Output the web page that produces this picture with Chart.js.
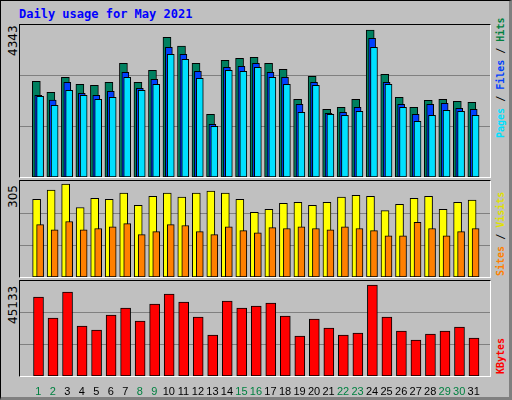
<!DOCTYPE html>
<html>
<head>
<meta charset="utf-8">
<script src="https://cdn.jsdelivr.net/npm/chart.js@4"></script>
<style>
  body { margin: 0; background: #fff; }
  #frame { position: absolute; left: 0; top: 0; width: 508px; height: 396px; background: #c0c0c0;
           border: 1px solid #000; border-right: 3px solid #808080; border-bottom: 3px solid #808080; }
  .box { position: absolute; }
  .plot { border-top: 1px solid #000; border-left: 1px solid #000; border-right: 1px solid #fff; border-bottom: 1px solid #fff; }
  .rot { position: absolute; transform: rotate(-90deg); transform-origin: left top; white-space: nowrap; }
  .title { position: absolute; left: 19px; top: 7px; font: bold 12px "DejaVu Sans Mono", monospace; color: #0000ff; }
  .left { font: 12px "DejaVu Sans", sans-serif; color: #000; }
  .right { font: bold 10px "DejaVu Sans Mono", monospace; }
</style>
</head>
<body>
<div id="frame"></div>
<div class="title">Daily usage for May 2021</div>

<div class="plot box" style="left:19px;top:24px;width:470px;height:152px"></div>
<div class="box" style="left:20px;top:25px;width:470px;height:152px"><canvas id="c1"></canvas></div>
<div class="plot box" style="left:19px;top:180px;width:470px;height:96px"></div>
<div class="box" style="left:20px;top:181px;width:470px;height:96px"><canvas id="c2"></canvas></div>
<div class="plot box" style="left:19px;top:280px;width:470px;height:95px"></div>
<div class="box" style="left:20px;top:281px;width:470px;height:116px"><canvas id="c3"></canvas></div>

<div class="rot left" style="left:6px;top:56px">4343</div>
<div class="rot left" style="left:6px;top:208px">305</div>
<div class="rot left" style="left:6px;top:324px">45133</div>

<div class="rot right" style="left:495px;top:138px"><span style="color:#00e0ff">Pages</span> / <span style="color:#0040ff">Files</span> / <span style="color:#008040">Hits</span></div>
<div class="rot right" style="left:495px;top:276px"><span style="color:#ff8000">Sites</span> / <span style="color:#e0e000">Visits</span></div>
<div class="rot right" style="left:495px;top:374px"><span style="color:#ff0000">KBytes</span></div>

<script>
const days = Array.from({length: 31}, (_, i) => i + 1);
const weekendDays = [1, 2, 8, 9, 15, 16, 22, 23, 29, 30];

const hits = [2827, 2502, 2945, 2738, 2709, 2797, 3359, 2797, 3152, 4127, 3870, 3359, 1852, 3447, 3506, 3536,
              3359, 3181, 2295, 2975, 2000, 2059, 2295, 4343, 3034, 2354, 2059, 2266, 2295, 2236, 2207];
const files = [2413, 2275, 2797, 2472, 2413, 2532, 3093, 2620, 2886, 3831, 3625, 3122, 1557, 3241, 3270, 3359,
               3093, 2945, 2148, 2797, 1882, 1911, 2059, 4097, 2797, 2148, 1852, 2148, 2177, 2029, 2000];
const pages = [2384, 2118, 2561, 2413, 2295, 2354, 2945, 2561, 2738, 3625, 3477, 2916, 1498, 3152, 3122, 3241,
               2945, 2738, 1911, 2709, 1852, 1823, 1941, 3831, 2738, 2059, 1645, 1823, 1970, 1941, 1823];
const visits = [255, 285, 305, 228, 258, 255, 275, 235, 265, 275, 262, 275, 282, 275, 255, 212,
                222, 242, 245, 235, 245, 262, 268, 265, 218, 238, 258, 265, 222, 245, 252];
const sites = [172, 155, 182, 155, 159, 165, 175, 139, 149, 172, 169, 149, 139, 165, 152, 145,
               162, 159, 165, 159, 155, 165, 159, 152, 135, 135, 179, 159, 135, 149, 159];
const kbytes = [39176, 28762, 41656, 24795, 22811, 30250, 33721, 27275, 35705, 40664, 36697, 29258, 20332, 37193, 33721, 34713,
                36201, 29754, 19836, 28266, 23803, 20332, 21324, 45133, 29258, 22316, 17852, 20828, 22316, 24299, 18844];

const X_MIN = 0.267, X_MAX = 31.6;

function pts(values, off) {
    return values.map((v, i) => ({x: days[i] + off, y: v}));
}

function bars(values, off, color, thick) {
    return {
        data: pts(values, off),
        backgroundColor: color,
        borderColor: '#000',
        borderWidth: 1,
        borderSkipped: false,
        barThickness: thick,
        grouped: false
    };
}

function yScale(max) {
    return {
        min: 0, max: max,
        afterBuildTicks: s => { s.ticks = [{value: max / 3}, {value: 2 * max / 3}]; },
        ticks: {display: false},
        grid: {color: '#808080', drawTicks: false},
        border: {display: false}
    };
}

function makeChart(id, datasets, ymax, showX) {
    new Chart(document.getElementById(id), {
        type: 'bar',
        data: {datasets: datasets},
        options: {
            responsive: true,
            maintainAspectRatio: false,
            animation: false,
            layout: {padding: 0},
            plugins: {legend: {display: false}, tooltip: {enabled: false}},
            scales: {
                x: {
                    type: 'linear', min: X_MIN, max: X_MAX,
                    display: showX,
                    afterBuildTicks: s => { s.ticks = days.map(d => ({value: d})); },
                    afterFit: s => { s.height = showX ? 21 : 0; },
                    grid: {display: false},
                    border: {display: false},
                    ticks: {
                        padding: 1,
                        maxRotation: 0,
                        autoSkip: false,
                        font: {family: 'Liberation Sans', size: 11},
                        color: ctx => weekendDays.includes(ctx.tick.value) ? '#008040' : '#000'
                    }
                },
                y: yScale(ymax)
            }
        }
    });
}

// pages drawn on top, hits behind
makeChart('c1', [
    bars(pages, 0.13, '#00e0ff', 7),
    bars(files, 0, '#0040ff', 7),
    bars(hits, -0.13, '#008060', 8)
], 4343 * 152 / 147, false);

makeChart('c2', [
    bars(sites, 0.13, '#ff8000', 7),
    bars(visits, -0.11, '#ffff00', 8)
], 305 * 95 / 92, false);

makeChart('c3', [
    bars(kbytes, 0.02, '#ff0000', 10)
], 45133 * 95 / 91, true);
</script>
</body>
</html>
